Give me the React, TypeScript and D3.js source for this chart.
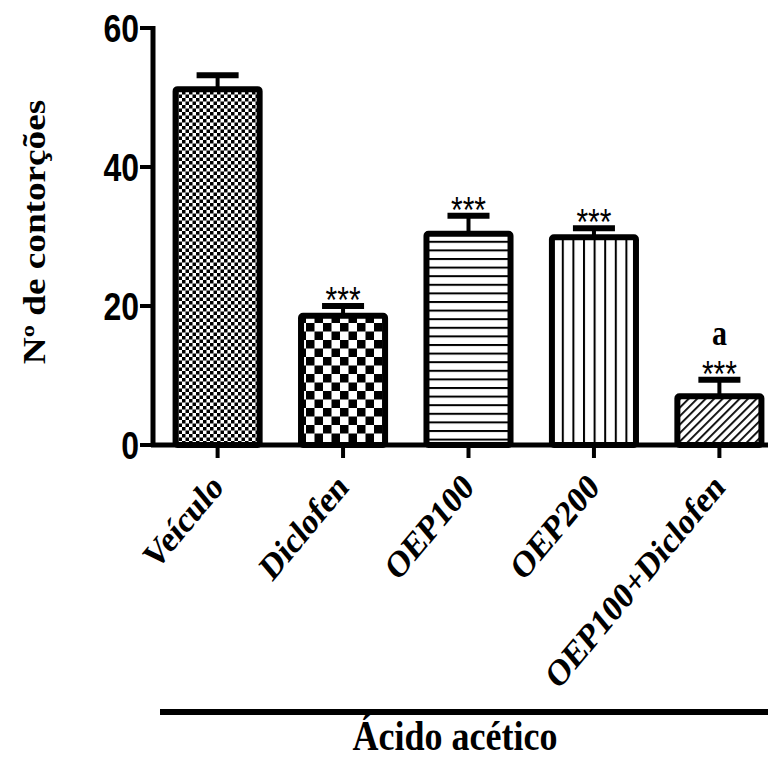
import * as d3 from 'd3'

const categories = ['Veículo', 'Diclofen', 'OEP100', 'OEP200', 'OEP100+Diclofen']
const means = [51.2, 18.6, 30.4, 29.9, 7.0]
const sems = [2.0, 1.4, 2.6, 1.3, 2.4]
const stars = ['', '***', '***', '***', '***']
const letters = ['', '', '', '', 'a']
const patterns = ['finecheck', 'check', 'hlines', 'vlines', 'diag']
const yTicks = [0, 20, 40, 60]

const W = 770
const H = 772
const axisX = 153
const axisY = 445
// the source figure is stretched vertically, so text is too
const K = 1.2
const serif = 'Liberation Serif, Times New Roman'
const sans = 'Liberation Sans, Arial'

const at = (x: number, y: number) => `translate(${x},${y}) scale(1,${K})`

export default function App() {
  const x = d3.scaleBand<string>().domain(categories).range([153, 784]).paddingInner(0.33).paddingOuter(0.18)
  const y = d3.scaleLinear().domain([0, 60]).range([axisY, 28])
  const bw = x.bandwidth()

  return (
    <svg width={W} height={H} style={{ position: 'absolute', left: 0, top: 0, background: '#fff' }}>
      <defs>
        <pattern id="finecheck" width={7} height={7} patternUnits="userSpaceOnUse">
          <rect width={7} height={7} fill="#fff" />
          <rect width={3.5} height={3.5} fill="#000" />
          <rect x={3.5} y={3.5} width={3.5} height={3.5} fill="#000" />
        </pattern>
        <pattern id="check" width={17} height={17} patternUnits="userSpaceOnUse">
          <rect width={17} height={17} fill="#fff" />
          <rect width={8.5} height={8.5} fill="#000" />
          <rect x={8.5} y={8.5} width={8.5} height={8.5} fill="#000" />
        </pattern>
        <pattern id="hlines" width={10} height={8.6} patternUnits="userSpaceOnUse">
          <rect width={10} height={8.6} fill="#fff" />
          <rect y={0} width={10} height={2} fill="#000" />
        </pattern>
        <pattern id="vlines" width={10.6} height={10} patternUnits="userSpaceOnUse">
          <rect width={10.6} height={10} fill="#fff" />
          <rect x={0} width={2} height={10} fill="#000" />
        </pattern>
        <pattern id="diag" width={6} height={6} patternUnits="userSpaceOnUse" patternTransform="rotate(45)">
          <rect width={6} height={6} fill="#fff" />
          <rect width={1.8} height={6} fill="#000" />
        </pattern>
      </defs>

      {/* bars */}
      {categories.map((c, i) => {
        const x0 = x(c)!
        const cx = x0 + bw / 2
        const top = y(means[i])
        const up = y(means[i] + sems[i])
        return (
          <g key={c}>
            <line x1={cx} x2={cx} y1={top} y2={up} stroke="#000" strokeWidth={4} />
            <line x1={cx - bw / 4} x2={cx + bw / 4} y1={up} y2={up} stroke="#000" strokeWidth={6} />
            <rect
              x={x0}
              y={top}
              width={bw}
              height={axisY - top}
              fill={`url(#${patterns[i]})`}
              stroke="#000"
              strokeWidth={6}
              rx={2}
            />
            {stars[i] && (
              <text transform={at(cx, up + 7)} textAnchor="middle" fontFamily={sans} fontSize={30}>
                {stars[i]}
              </text>
            )}
            {letters[i] && (
              <text transform={at(cx, up - 35)} textAnchor="middle" fontFamily={serif} fontWeight="bold" fontSize={30}>
                {letters[i]}
              </text>
            )}
          </g>
        )
      })}

      {/* y axis */}
      <line x1={axisX} x2={axisX} y1={y(60) - 2} y2={axisY + 2} stroke="#000" strokeWidth={5} />
      {yTicks.map((t) => (
        <g key={t}>
          <line x1={axisX - 13} x2={axisX} y1={y(t)} y2={y(t)} stroke="#000" strokeWidth={4} />
          <text
            transform={at(axisX - 14, y(t))}
            dy="0.36em"
            textAnchor="end"
            fontFamily={sans}
            fontWeight="bold"
            fontSize={32}
          >
            {t}
          </text>
        </g>
      ))}

      {/* x axis */}
      <line x1={axisX - 2} x2={768} y1={axisY} y2={axisY} stroke="#000" strokeWidth={5} />
      {categories.map((c) => {
        const cx = x(c)! + bw / 2
        return (
          <g key={c}>
            <line x1={cx} x2={cx} y1={axisY} y2={axisY + 13} stroke="#000" strokeWidth={4} />
            <text
              transform={`${at(cx + 7, axisY + 44)} rotate(-45)`}
              textAnchor="end"
              fontFamily={serif}
              fontWeight="bold"
              fontSize={31}
            >
              {c}
            </text>
          </g>
        )
      })}

      {/* y title */}
      <text
        transform={`${at(45, 232)} rotate(-90)`}
        textAnchor="middle"
        fontFamily={serif}
        fontWeight="bold"
        fontSize={31}
      >
        Nº de contorções
      </text>

      {/* group line + title */}
      <line x1={160} x2={768} y1={712} y2={712} stroke="#000" strokeWidth={6} />
      <text transform={at(455, 750)} textAnchor="middle" fontFamily={serif} fontWeight="bold" fontSize={36}>
        Ácido acético
      </text>
    </svg>
  )
}
